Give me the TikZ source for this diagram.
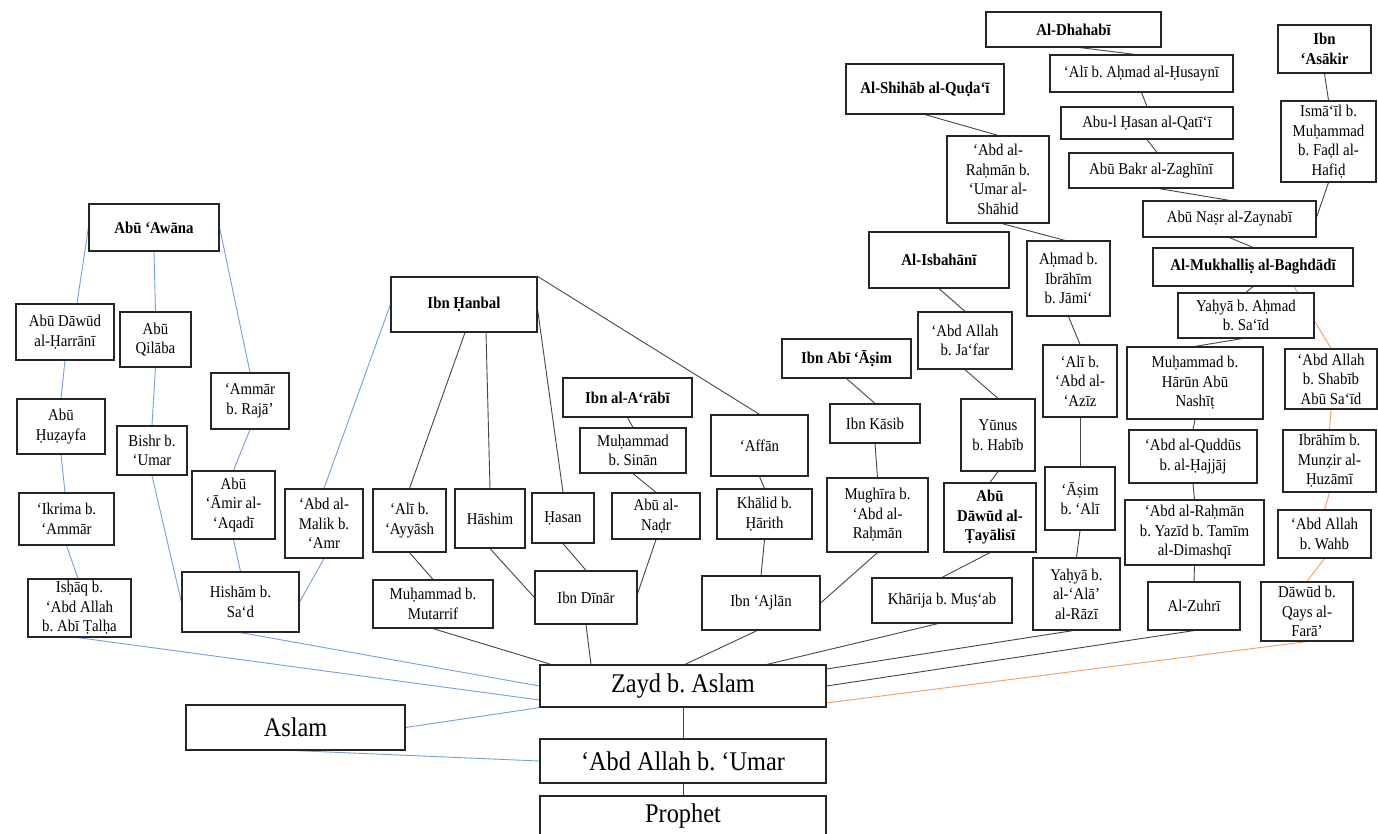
\documentclass[tikz,border=0pt]{standalone}
\usepackage{fontspec}
\setmainfont{Liberation Serif}[FakeStretch=0.9]
\frenchspacing
\usetikzlibrary{backgrounds}
\definecolor{lnblue}{RGB}{118,158,226}
\definecolor{lnorange}{RGB}{244,158,96}
\definecolor{lngray}{RGB}{70,70,70}
\tikzset{
  box/.style={draw=black!85, line width=1.2pt, fill=white, inner sep=0pt,
    align=center, font=\fontsize{16.5}{19.5}\selectfont},
  bigbox/.style={box, font=\fontsize{27}{30}\selectfont},
  hd/.style={font=\fontsize{16.5}{19.5}\selectfont\bfseries},
  bl/.style={draw=lnblue, line width=0.9pt},
  gr/.style={draw=lngray, line width=0.9pt},
  og/.style={draw=lnorange, line width=0.9pt},
}
% \nd[style]{x1}{y1}{x2}{y2}{name}{text}: a box given by its corners
\newcommand\nd[6][]{\node[box,#1,minimum width={(#4-#2)*1pt},minimum height={(#5-#3)*1pt}] (#6) at ({(#2+#4)/2},{(#3+#5)/2})}
\begin{document}
\begin{tikzpicture}[x=1pt,y=-1pt]
\useasboundingbox (0,0) rectangle (1378,834);

% Abu Awana chains
\nd[hd]{89}{204}{219}{251}{aw}{Abū ‘Awāna};
\nd{16}{304}{114}{360}{adh}{Abū Dāwūd\\al-Ḥarrānī};
\nd{120}{312}{191}{367}{aq}{Abū\\Qilāba};
\nd{211}{373}{289}{429}{ar}{‘Ammār\\b. Rajā’};
\nd{17}{399}{105}{454}{ahz}{Abū\\Ḥuẓayfa};
\nd{117}{426}{187}{475}{bu}{Bishr b.\\‘Umar};
\nd{19}{493}{114}{545}{ik}{‘Ikrima b.\\‘Ammār};
\nd{192}{471}{275}{539}{aa}{Abū\\‘Āmir al-\\‘Aqadī};
\nd{285}{489}{363}{558}{am}{‘Abd al-\\Malik b.\\‘Amr};
\nd{28}{579}{131}{637}{is}{Isḥāq b.\\‘Abd Allah\\b. Abī Ṭalḥa};
\nd{182}{572}{299}{632}{hs}{Hishām b.\\Sa‘d};

% Ibn Hanbal and Ibn al-A'rabi
\nd[hd]{391}{277}{537}{332}{ih}{Ibn Ḥanbal};
\nd[hd]{563}{378}{692}{417}{ia}{Ibn al-A‘rābī};
\nd{580}{428}{686}{473}{ms}{Muḥammad\\b. Sinān};
\nd{373}{489}{446}{552}{aly}{‘Alī b.\\‘Ayyāsh};
\nd{455}{489}{525}{548}{hm}{Hāshim};
\nd{532}{493}{594}{543}{hsn}{Ḥasan};
\nd{612}{493}{700}{539}{an}{Abū al-\\Naḍr};
\nd{373}{580}{493}{628}{mm}{Muḥammad b.\\Mutarrif};
\nd{535}{571}{637}{624}{id}{Ibn Dīnār};

% Ibn Abi Asim, al-Isbahani, al-Shihab
\nd{711}{415}{808}{476}{af}{‘Affān};
\nd{717}{489}{812}{539}{kh}{Khālid b.\\Ḥārith};
\nd{702}{576}{820}{630}{ij}{Ibn ‘Ajlān};
\nd[hd]{782}{339}{911}{378}{iaa}{Ibn Abī ‘Āṣim};
\nd{830}{404}{920}{443}{ik2}{Ibn Kāsib};
\nd{827}{478}{928}{552}{mg}{Mughīra b.\\‘Abd al-\\Raḥmān};
\nd{872}{578}{1012}{623}{khr}{Khārija b. Muṣ‘ab};
\nd[hd]{944}{483}{1036}{552}{adt}{Abū\\Dāwūd al-\\Ṭayālisī};
\nd[hd]{869}{232}{1009}{288}{isb}{Al-Isbahānī};
\nd{918}{312}{1012}{369}{ajf}{‘Abd Allah\\b. Ja‘far};
\nd{961}{399}{1035}{471}{yh}{Yūnus\\b. Habīb};
\nd{1027}{241}{1110}{316}{ahm}{Aḥmad b.\\Ibrāhīm\\b. Jāmi‘};
\nd{1043}{345}{1117}{417}{aaz}{‘Alī b.\\‘Abd al-\\‘Azīz};
\nd{1045}{467}{1115}{530}{asm}{‘Āṣim\\b. ‘Alī};
\nd{1033}{558}{1120}{630}{yr}{Yaḥyā b.\\al-‘Alā’\\al-Rāzī};
\nd[hd]{846}{64}{1004}{114}{shq}{Al-Shihāb al-Quḍa‘ī};
\nd{947}{136}{1049}{223}{arh}{‘Abd al-\\Raḥmān b.\\‘Umar al-\\Shāhid};

% al-Dhahabi, Ibn Asakir, al-Mukhallis
\nd[hd]{986}{12}{1161}{47}{dh}{Al-Dhahabī};
\nd{1050}{55}{1233}{92}{aah}{‘Alī b. Aḥmad al-Ḥusaynī};
\nd{1061}{107}{1233}{139}{ahq}{Abu-l Ḥasan al-Qatī‘ī};
\nd{1069}{153}{1233}{188}{abz}{Abū Bakr al-Zaghīnī};
\nd{1143}{201}{1316}{237}{anz}{Abū Naṣr al-Zaynabī};
\nd[hd]{1278}{25}{1371}{73}{ias}{Ibn\\‘Asākir};
\nd{1281}{101}{1376}{182}{ism}{Ismā‘īl b.\\Muḥammad\\b. Faḍl al-\\Hafiḍ};
\nd[hd]{1153}{248}{1353}{286}{mkh}{Al-Mukhalliṣ al-Baghdādī};
\nd{1178}{293}{1314}{338}{yas}{Yaḥyā b. Aḥmad\\b. Sa‘īd};
\nd{1127}{347}{1263}{419}{mhr}{Muḥammad b.\\Hārūn Abū\\Nashīṭ};
\nd{1285}{349}{1377}{409}{shb}{‘Abd Allah\\b. Shabīb\\Abū Sa‘īd};
\nd{1129}{430}{1257}{483}{aqd}{‘Abd al-Quddūs\\b. al-Ḥajjāj};
\nd{1283}{430}{1376}{492}{ibm}{Ibrāhīm b.\\Munẓir al-\\Ḥuzāmī};
\nd{1125}{500}{1264}{565}{ary}{‘Abd al-Raḥmān\\b. Yazīd b. Tamīm\\al-Dimashqī};
\nd{1278}{510}{1371}{558}{awb}{‘Abd Allah\\b. Wahb};
\nd{1148}{582}{1240}{630}{zh}{Al-Zuhrī};
\nd{1261}{582}{1353}{641}{dw}{Dāwūd b.\\Qays al-\\Farā’};

% common trunk
\nd[bigbox]{540}{665}{826}{707}{zy}{Zayd b. Aslam};
\nd[bigbox]{186}{705}{405}{750}{as}{Aslam};
\nd[bigbox]{540}{739}{826}{783}{au}{‘Abd Allah b. ‘Umar};
\nd[bigbox]{540}{796}{826}{836}{pr}{Prophet};

\begin{pgfonlayer}{background}
\fill[white] (0,0) rectangle (1378,834);
% blue links
\draw[bl] (aw.west) -- ([shift={(12,0)}]adh.north);
\draw[bl] (aw.south) -- (aq.north);
\draw[bl] (aw.east) -- (ar.north);
\draw[bl] (adh.south) -- (ahz.north);
\draw[bl] (ahz.south) -- ([shift={(-1.5,0)}]ik.north);
\draw[bl] (ik.south) -- ([shift={(-1.5,0)}]is.north);
\draw[bl] (aq.south) -- (bu.north);
\draw[bl] (bu.south) -- (hs.west);
\draw[bl] (ar.south) -- (aa.north);
\draw[bl] (aa.south) -- (hs.north);
\draw[bl] (am.south) -- (hs.east);
\draw[bl] (am.north) -- (ih.west);
\draw[bl] ([shift={(-1.5,0)}]is.south) -- ([shift={(0,14)}]zy.west);
\draw[bl] (hs.south) -- (zy.west);
\draw[bl] (as.east) -- (zy.south west);
\draw[bl] (as.south) -- (au.west);
% grey links
\draw[gr] ([shift={(1,0)}]ih.south) -- (aly.north);
\draw[gr] ([shift={(22,0)}]ih.south) -- (hm.north);
\draw[gr] ([shift={(0,5)}]ih.east) -- (hsn.north);
\draw[gr] (ih.north east) -- (af.north);
\draw[gr] (ia.south) -- (ms.north);
\draw[gr] (ms.south) -- (an.north);
\draw[gr] (aly.south) -- (mm.north);
\draw[gr] (hm.south) -- (id.west);
\draw[gr] (hsn.south) -- (id.north);
\draw[gr] (an.south) -- ([shift={(0,-4)}]id.east);
\draw[gr] (id.south) -- ([shift={(-92,0)}]zy.north);
\draw[gr] (mm.south) -- ([shift={(-132,0)}]zy.north);
\draw[gr] (af.south) -- (kh.north);
\draw[gr] (kh.south) -- (ij.north);
\draw[gr] (iaa.south) -- (ik2.north);
\draw[gr] (ik2.south) -- (mg.north);
\draw[gr] (mg.south) -- (ij.east);
\draw[gr] ([shift={(-4,0)}]ij.south) -- ([shift={(2,0)}]zy.north);
\draw[gr] ([shift={(-4,0)}]khr.south) -- ([shift={(84,0)}]zy.north);
\draw[gr] (adt.south) -- (khr.north);
\draw[gr] (isb.south) -- (ajf.north);
\draw[gr] (ajf.south) -- (yh.north);
\draw[gr] (yh.south) -- (adt.north);
\draw[gr] (ahm.south) -- (aaz.north);
\draw[gr] (aaz.south) -- (asm.north);
\draw[gr] (asm.south) -- (yr.north);
\draw[gr] ([shift={(-3.5,0)}]yr.south) -- ([shift={(0,-17)}]zy.east);
\draw[gr] (shq.south) -- (arh.north);
\draw[gr] ([shift={(4,0)}]arh.south) -- ([shift={(-3.5,0)}]ahm.north);
\draw[gr] ([shift={(6.5,0)}]dh.south) -- ([shift={(-6.5,0)}]aah.north);
\draw[gr] (aah.south) -- (ahq.north);
\draw[gr] (ahq.south) -- ([shift={(6,0)}]abz.north);
\draw[gr] ([shift={(8,0)}]abz.south) -- (anz.north);
\draw[gr] (ias.south) -- (ism.north);
\draw[gr] (ism.south) -- ([shift={(0,-2)}]anz.east);
\draw[gr] (anz.south) -- (mkh.north);
\draw[gr] (mkh.south) -- (yas.north);
\draw[gr] ([shift={(-4,0)}]yas.south) -- (mhr.north);
\draw[gr] (mhr.south) -- (aqd.north);
\draw[gr] (aqd.south) -- (ary.north);
\draw[gr] (ary.south) -- (zh.north);
\draw[gr] (zh.south) -- (zy.east);
\draw[gr] (zy.south) -- (au.north);
\draw[gr] (au.south) -- (pr.north);
% orange links
\draw[og] ([shift={(41,0)}]mkh.south) -- (shb.north);
\draw[og] (shb.south) -- (ibm.north);
\draw[og] (ibm.south) -- (awb.north);
\draw[og] (awb.south) -- (dw.north);
\draw[og] (dw.south) -- ([shift={(0,17)}]zy.east);
\end{pgfonlayer}
\end{tikzpicture}
\end{document}
